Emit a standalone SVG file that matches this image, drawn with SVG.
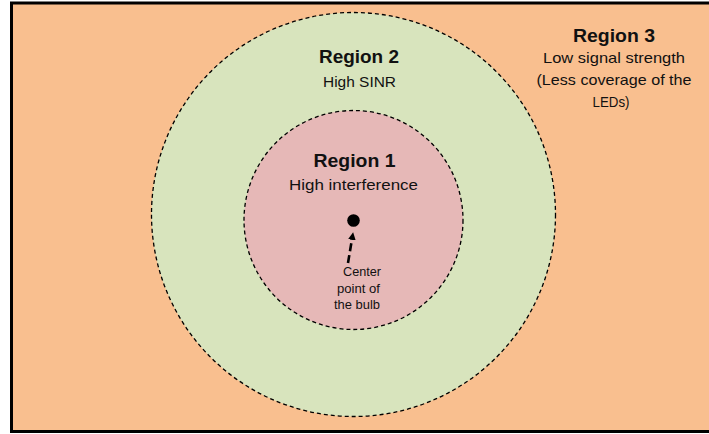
<svg xmlns="http://www.w3.org/2000/svg" width="709" height="434" viewBox="0 0 709 434">
  <style>
    .zone { stroke: #000; stroke-width: 1.3; stroke-dasharray: 4 3; }
    .t { font-family: "Liberation Sans", Arial, sans-serif; fill: #111; text-anchor: middle; }
    .title { font-weight: bold; font-size: 17.5px; }
    .sub { font-size: 15px; }
    .small { font-size: 12px; }
  </style>
  <defs>
    <marker id="arrow" viewBox="0 0 10 10" refX="5" refY="5" markerWidth="3" markerHeight="3" orient="auto">
      <path d="M0,0 L10,5 L0,10 z" fill="#000"/>
    </marker>
  </defs>

  <!-- Region 3: room area -->
  <g id="region3">
    <rect x="11.5" y="3" width="700" height="428.5" fill="#F9BF8F" stroke="#000" stroke-width="3"/>
    <text class="t title" x="614" y="41.5" textLength="82" lengthAdjust="spacingAndGlyphs">Region 3</text>
    <text class="t sub" x="614" y="63.3" textLength="142" lengthAdjust="spacingAndGlyphs">Low signal strength</text>
    <text class="t sub" x="614" y="85" textLength="155" lengthAdjust="spacingAndGlyphs">(Less coverage of the</text>
    <text class="t sub" x="611" y="106.7" textLength="37" lengthAdjust="spacingAndGlyphs">LEDs)</text>
  </g>

  <!-- Region 2: SINR ring -->
  <g id="region2">
    <circle class="zone" cx="353.5" cy="214.5" r="202" fill="#D8E4BD"/>
    <text class="t title" x="359" y="63.3" textLength="80" lengthAdjust="spacingAndGlyphs">Region 2</text>
    <text class="t sub" x="359.5" y="86.7" textLength="73" lengthAdjust="spacingAndGlyphs">High SINR</text>
  </g>

  <!-- Region 1: interference zone -->
  <g id="region1">
    <circle class="zone" cx="353.5" cy="220" r="109.5" fill="#E6B8B7"/>
    <text class="t title" x="354.5" y="167" textLength="82" lengthAdjust="spacingAndGlyphs">Region 1</text>
    <text class="t sub" x="353.5" y="190" textLength="129" lengthAdjust="spacingAndGlyphs">High interference</text>
  </g>

  <!-- bulb centre -->
  <g id="bulb">
    <circle cx="353.5" cy="220.5" r="6.3" fill="#000"/>
    <text class="t small" x="362" y="276" textLength="38" lengthAdjust="spacingAndGlyphs">Center</text>
    <text class="t small" x="358.5" y="293" textLength="43" lengthAdjust="spacingAndGlyphs">point of</text>
    <text class="t small" x="357" y="309" textLength="46" lengthAdjust="spacingAndGlyphs">the bulb</text>
  </g>

  <g id="connectors">
    <line x1="348" y1="263" x2="352.5" y2="236" stroke="#000" stroke-width="2.6" stroke-dasharray="8 4" marker-end="url(#arrow)"/>
  </g>
</svg>
